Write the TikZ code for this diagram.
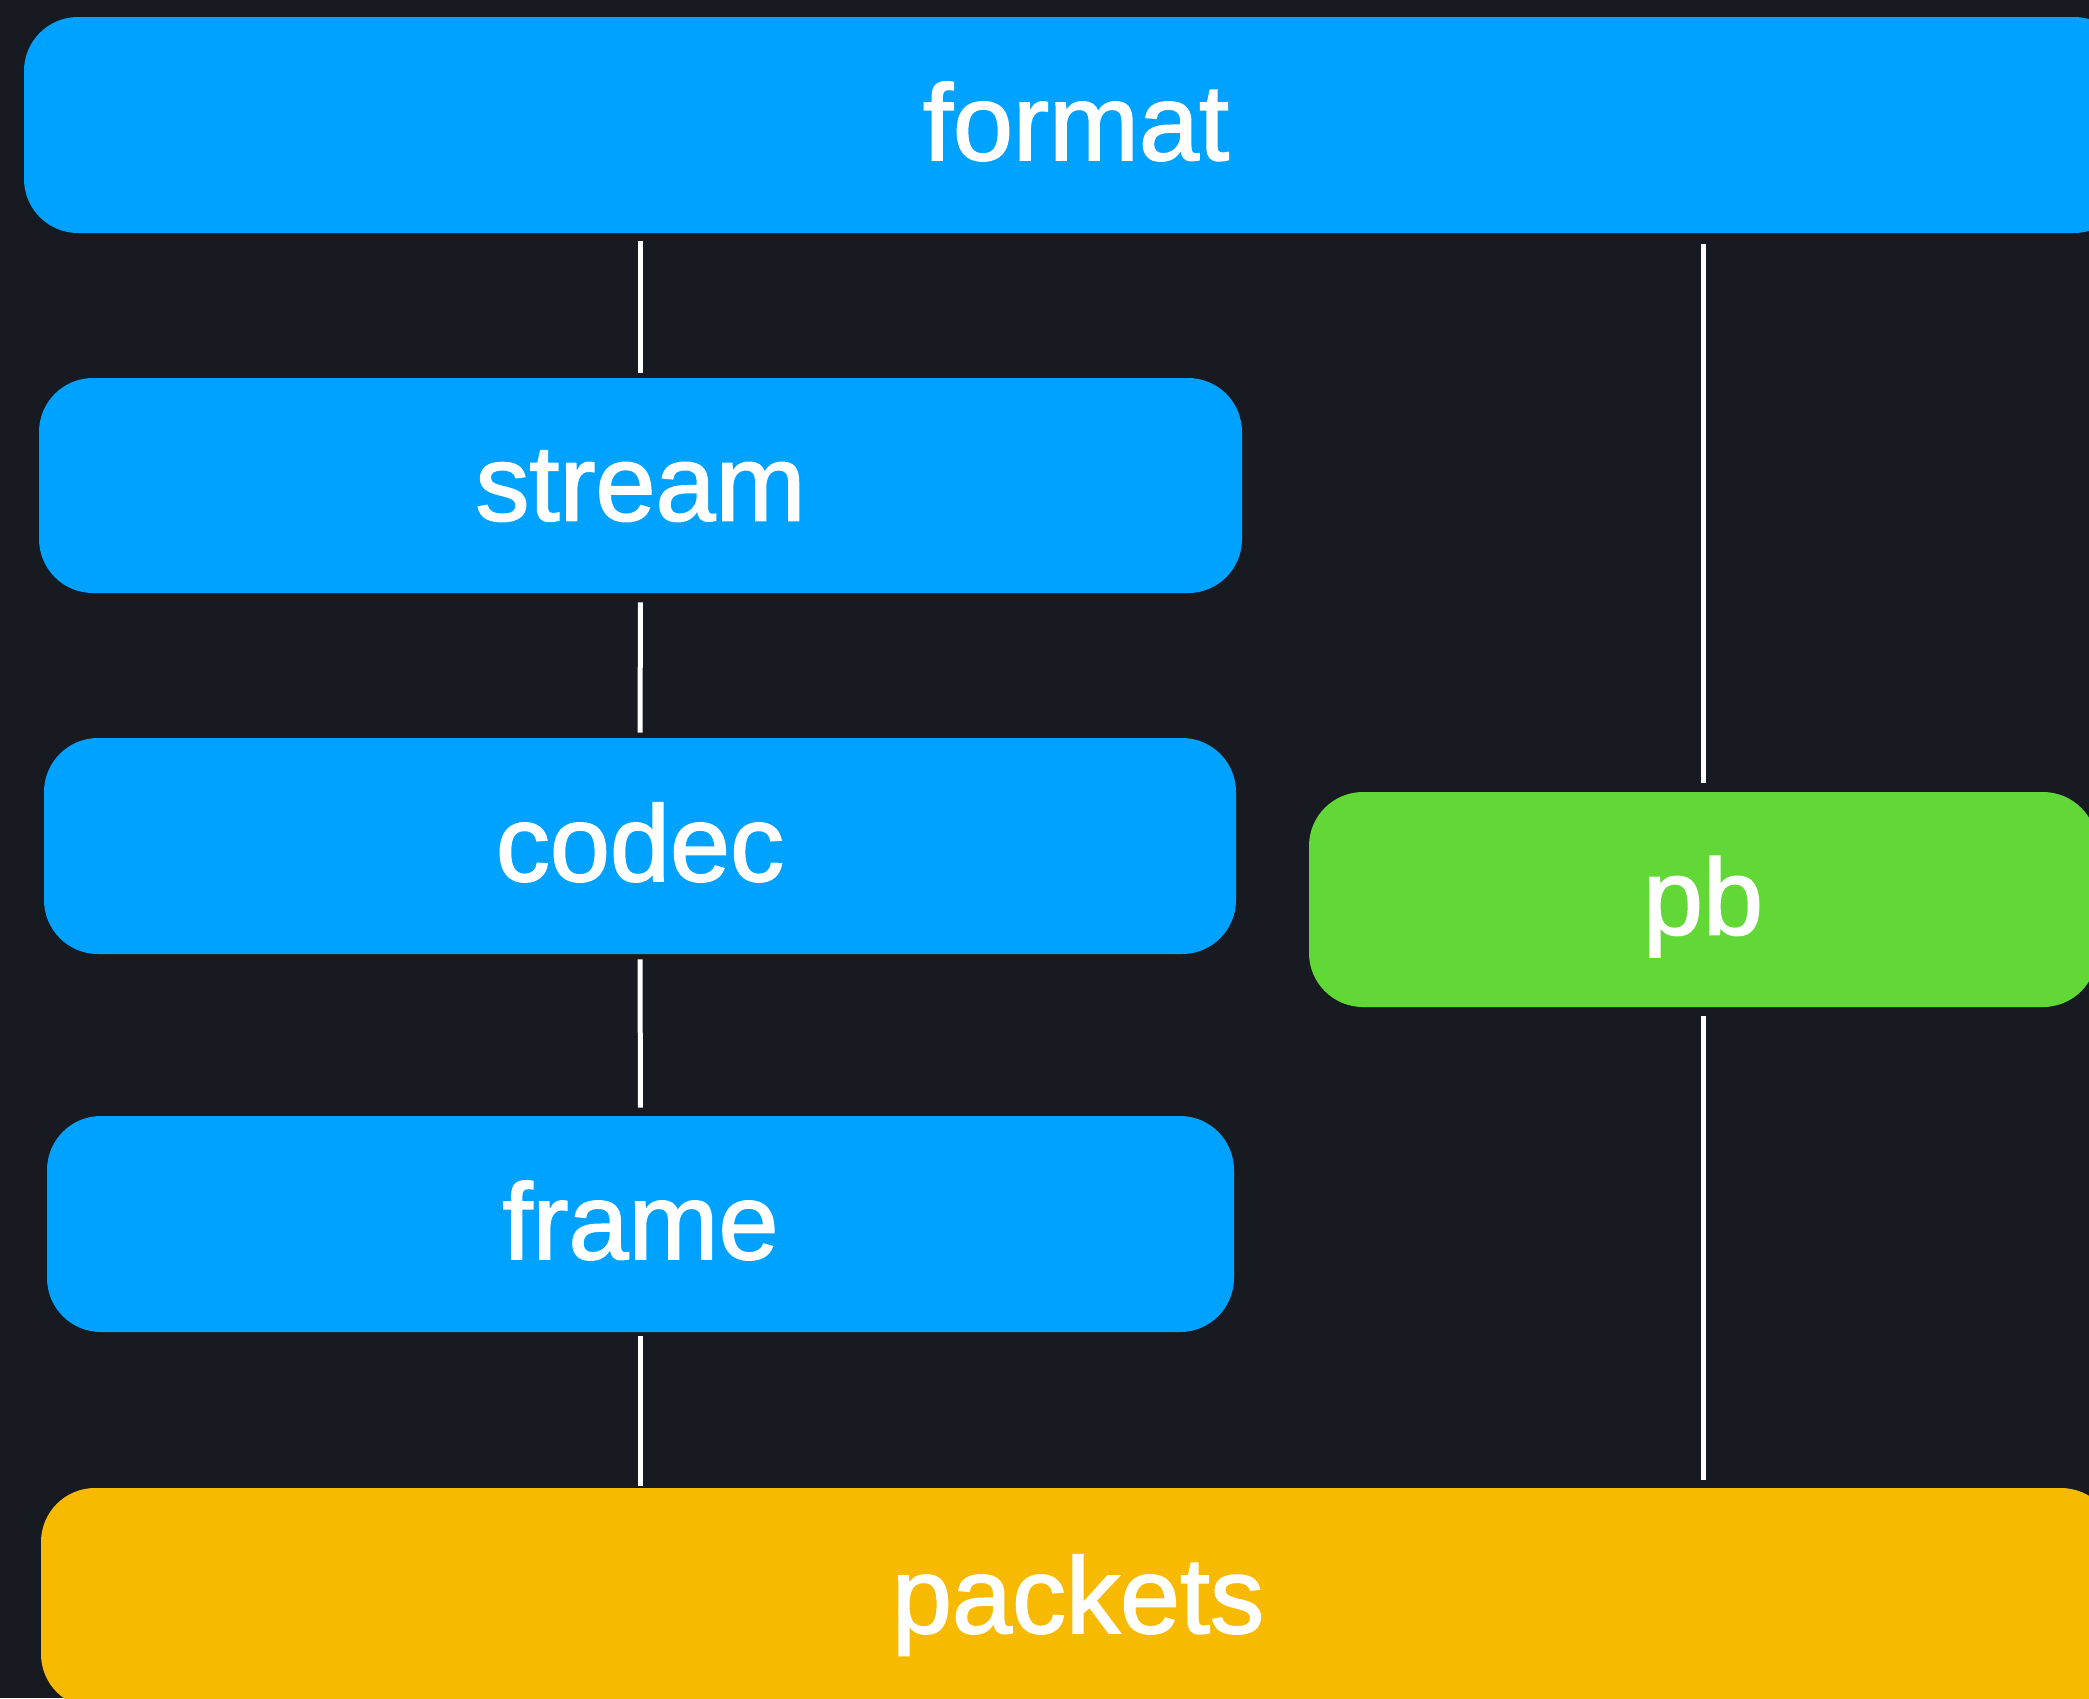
\documentclass[tikz,border=0pt]{standalone}
\usepackage{fontspec}
\setmainfont{Liberation Sans}
\newfontfamily\labelfont[FakeBold=1.6]{Liberation Sans}
\definecolor{bgc}{HTML}{171A21}
\definecolor{kblue}{HTML}{00A2FF}
\definecolor{kgreen}{HTML}{61D836}
\definecolor{kyellow}{HTML}{F8BA00}
\tikzset{
  box/.style={rectangle, rounded corners=27pt, inner sep=0pt, draw=none,
    text=white, font=\labelfont\fontsize{54pt}{60pt}\selectfont,
    text height=35pt, text depth=0pt},
  link/.style={draw=white, line width=2.5pt}
}
\begin{document}
\begin{tikzpicture}[x=0.5pt,y=-0.5pt]
\fill[bgc] (0,0) rectangle (2089,1698);
\useasboundingbox (0,0) rectangle (2089,1698);
\node[box, fill=kblue, minimum width=1052pt, minimum height=108pt] (format) at (1076,125) {format};
\node[box, fill=kblue, minimum width=601.5pt, minimum height=107.5pt] (stream) at (640.5,485.5) {stream};
\node[box, fill=kblue, minimum width=596pt, minimum height=108pt] (codec) at (640,846) {codec};
\node[box, fill=kblue, minimum width=593.5pt, minimum height=108pt] (frame) at (640.5,1224) {frame};
\node[box, fill=kgreen, minimum width=394pt, minimum height=107.5pt] (pb) at (1703,899.5) {pb};
\node[box, fill=kyellow, minimum width=1037pt, minimum height=110pt] (packets) at (1078,1598) {packets};
\draw[link, shorten <=4pt, shorten >=2.5pt] (format.south -| stream.center) -- (stream.north);
\draw[link, shorten <=4.5pt, shorten >=2.5pt] (stream.south) -- (codec.north);
\draw[link, shorten <=2.5pt, shorten >=4pt] (codec.south) -- (frame.north);
\draw[link, shorten <=2pt, shorten >=1pt] (frame.south) -- (packets.north -| frame.center);
\draw[link, shorten <=5.5pt, shorten >=4.5pt] (format.south -| pb.center) -- (pb.north);
\draw[link, shorten <=4.5pt, shorten >=4pt] (pb.south) -- (packets.north -| pb.center);
\end{tikzpicture}
\end{document}
